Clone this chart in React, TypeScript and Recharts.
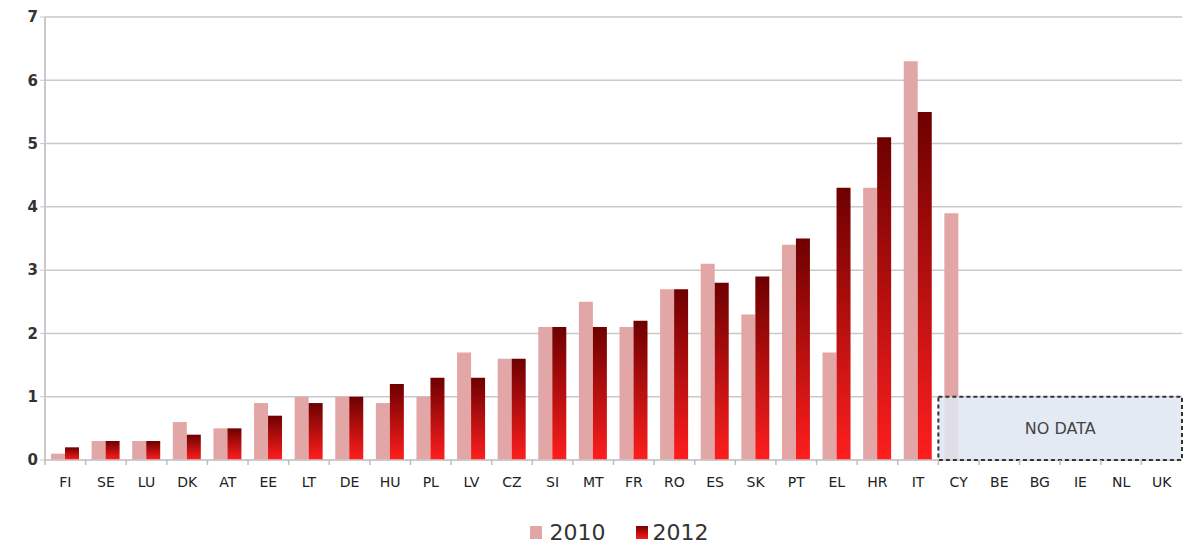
import React from 'react';
import { BarChart, Bar, XAxis, YAxis, CartesianGrid, Legend, ReferenceArea } from 'recharts';

const countries = ['FI', 'SE', 'LU', 'DK', 'AT', 'EE', 'LT', 'DE', 'HU', 'PL', 'LV', 'CZ', 'SI', 'MT', 'FR', 'RO', 'ES', 'SK', 'PT', 'EL', 'HR', 'IT', 'CY', 'BE', 'BG', 'IE', 'NL', 'UK'];
const values2010 = [0.1, 0.3, 0.3, 0.6, 0.5, 0.9, 1.0, 1.0, 0.9, 1.0, 1.7, 1.6, 2.1, 2.5, 2.1, 2.7, 3.1, 2.3, 3.4, 1.7, 4.3, 6.3, 3.9, null, null, null, null, null];
const values2012 = [0.2, 0.3, 0.3, 0.4, 0.5, 0.7, 0.9, 1.0, 1.2, 1.3, 1.3, 1.6, 2.1, 2.1, 2.2, 2.7, 2.8, 2.9, 3.5, 4.3, 5.1, 5.5, null, null, null, null, null, null];
const yTicks = [0, 1, 2, 3, 4, 5, 6, 7];

const data = countries.map((c, i) => ({ country: c, y2010: values2010[i], y2012: values2012[i] }));

const FONT = '"DejaVu Sans", Verdana, sans-serif';
const PINK = '#e3a6a6';

const CategoryTick = ({ x, y, payload }: any) => {
  const half = payload.offset || 0;
  return (
    <g>
      <line x1={x - half} x2={x - half} y1={y - 8} y2={y - 3} stroke="#bdbdbd" strokeWidth={1.5} />
      <text x={x} y={y + 19} textAnchor="middle" fontSize={14} fill="#222" fontFamily={FONT}>
        {payload.value}
      </text>
    </g>
  );
};

const LegendContent = () => (
  <div style={{ display: 'flex', justifyContent: 'center', gap: 30, paddingTop: 30, paddingLeft: 56, fontFamily: FONT, fontSize: 22, color: '#333' }}>
    <span style={{ display: 'flex', alignItems: 'center' }}>
      <span style={{ width: 12, height: 13, background: PINK, marginRight: 8, display: 'inline-block' }} />
      2010
    </span>
    <span style={{ display: 'flex', alignItems: 'center' }}>
      <span style={{ width: 12, height: 13, background: 'linear-gradient(#7a0000, #ff1a1a)', marginRight: 5, display: 'inline-block' }} />
      2012
    </span>
  </div>
);

export default function App() {
  return (
    <div style={{ position: 'absolute', left: 0, top: 0, background: '#fff' }}>
      <BarChart
        width={1183}
        height={546}
        data={data}
        margin={{ top: 17, right: 1, bottom: 0, left: 0 }}
        barGap={0}
        barSize={14}
      >
        <defs>
          <linearGradient id="red2012" x1="0" y1="0" x2="0" y2="1">
            <stop offset="0%" stopColor="#6e0000" />
            <stop offset="100%" stopColor="#ff1e1e" />
          </linearGradient>
        </defs>
        <CartesianGrid vertical={false} stroke="#c9c9c9" strokeWidth={1.5} />
        <XAxis
          dataKey="country"
          interval={0}
          axisLine={{ stroke: '#c9c9c9', strokeWidth: 1.5 }}
          tickLine={false}
          tick={<CategoryTick />}
          height={30}
        />
        <YAxis
          domain={[0, 7]}
          ticks={yTicks}
          interval={0}
          width={45}
          axisLine={{ stroke: '#c9c9c9', strokeWidth: 2 }}
          tickLine={{ stroke: '#c9c9c9' }}
          tickSize={5}
          tick={{ fontSize: 15, fill: '#333', fontFamily: FONT, fontWeight: 'bold' }}
        />
        <Legend verticalAlign="bottom" height={56} content={<LegendContent />} wrapperStyle={{ bottom: 0 }} />
        <Bar dataKey="y2010" name="2010" fill={PINK} isAnimationActive={false} />
        <Bar dataKey="y2012" name="2012" fill="url(#red2012)" isAnimationActive={false} />
        <ReferenceArea
          x1="CY"
          x2="UK"
          y1={0}
          y2={1}
          zIndex={700}
          fill="#dfe6f2"
          fillOpacity={0.85}
          stroke="#333"
          strokeWidth={2}
          strokeDasharray="4 3"
          label={{ value: 'NO DATA', fill: '#444', fontSize: 16, fontFamily: FONT }}
        />
      </BarChart>
    </div>
  );
}
